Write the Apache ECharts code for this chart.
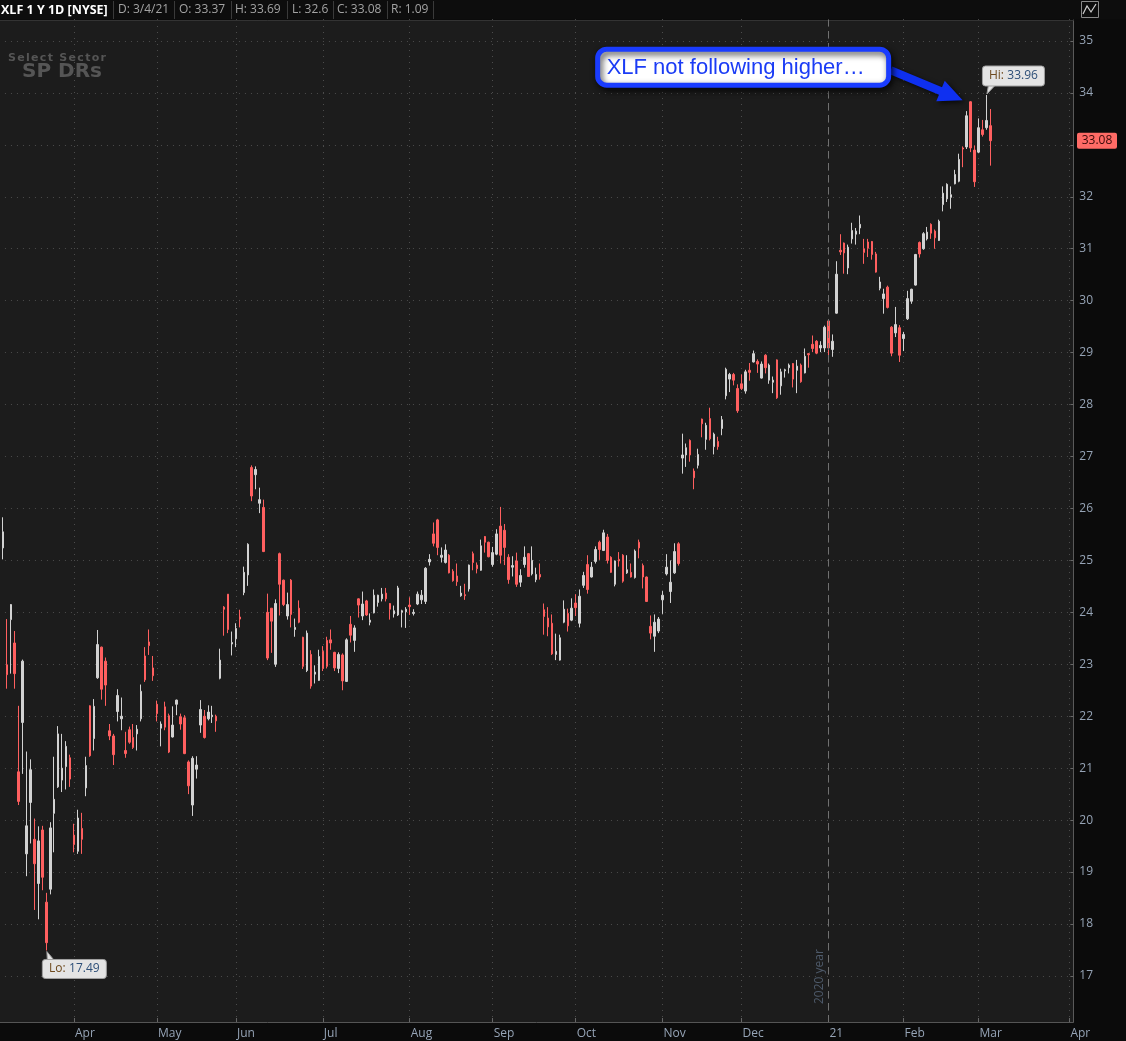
<!DOCTYPE html>
<html><head><meta charset="utf-8">
<script src="https://cdn.jsdelivr.net/npm/echarts@6/dist/echarts.min.js"></script>
<style>html,body{margin:0;padding:0;background:#0b0b0b;}#c{width:1126px;height:1041px;}</style>
</head><body><div id="c"></div>
<script>
// ---------- DATA ----------
const holidays = ['2020-04-10','2020-05-25','2020-07-03','2020-09-07','2020-11-26','2020-12-25','2021-01-01','2021-01-18','2021-02-15','2021-04-02'];
const monthNames = ['Jan','Feb','Mar','Apr','May','Jun','Jul','Aug','Sep','Oct','Nov','Dec'];
const opens = [26.94,25.24,22.99,23.86,23.41,20.93,21.88,19.35,20.34,19.63,18.78,19.81,18.42,18.67,20.13,20.64,20.77,21.03,21.20,19.71,19.40,19.84,20.62,22.20,21.57,22.74,23.33,23.06,21.72,21.62,22.09,21.95,21.34,21.74,21.59,21.66,21.95,23.16,23.43,22.93,22.23,21.77,22.18,22.01,21.60,22.23,21.99,21.97,21.12,20.29,20.98,21.83,22.00,21.95,21.99,22.00,22.73,24.10,24.35,23.39,23.49,23.91,24.38,24.72,26.79,26.65,26.10,26.02,24.00,24.08,23.00,25.13,24.62,23.93,24.62,23.67,24.08,23.52,22.88,23.19,22.81,22.69,23.25,23.46,23.47,23.23,22.92,23.18,22.67,23.77,23.46,24.26,23.93,24.22,23.81,23.99,24.19,24.26,24.37,24.17,23.97,23.95,24.00,24.01,24.14,23.98,24.16,24.24,24.21,24.97,25.51,25.78,25.06,24.96,25.10,24.79,24.70,24.32,24.34,24.45,25.13,24.91,24.81,25.46,25.35,24.92,25.12,25.66,25.58,25.06,24.87,24.99,24.58,24.92,25.13,24.74,24.63,24.73,24.05,23.89,23.79,23.19,23.08,23.81,23.98,23.85,24.18,23.79,24.52,24.92,24.68,24.98,25.35,25.19,25.45,25.06,24.54,25.02,25.10,24.76,24.77,24.67,25.35,24.90,24.68,23.73,23.54,23.64,24.24,24.74,24.40,24.76,25.32,26.97,27.03,27.31,26.72,26.83,27.72,27.33,27.73,27.19,27.29,27.54,28.17,28.49,28.58,28.31,28.40,28.26,28.66,28.82,28.83,28.51,28.95,28.47,28.43,28.86,28.36,28.65,28.71,28.79,28.66,28.76,28.61,28.98,29.16,29.22,29.09,29.09,29.61,29.06,29.76,30.97,31.11,30.63,31.19,31.28,31.40,31.00,31.13,31.14,30.90,30.24,30.04,30.26,29.49,29.38,29.48,29.27,29.65,29.99,30.30,31.12,31.00,31.19,31.47,31.34,31.16,31.85,31.96,31.99,32.25,32.30,32.94,32.96,33.83,32.90,32.86,33.29,33.33,33.37];
const highs = [27.05,25.83,23.87,24.16,23.64,22.20,23.09,21.32,21.17,20.03,19.88,19.89,18.60,19.96,21.22,21.81,21.66,21.52,21.26,19.93,20.20,20.14,21.22,22.21,22.33,23.66,23.34,23.13,21.85,21.66,22.52,22.36,21.70,21.80,21.85,21.83,22.61,23.33,23.67,23.16,22.30,21.90,22.28,22.05,22.19,22.32,22.05,22.02,21.15,21.23,21.23,22.31,22.12,22.21,22.20,22.03,23.30,24.12,24.35,23.63,23.79,24.05,24.88,25.33,26.83,26.81,26.40,26.17,24.36,24.08,24.25,25.15,24.63,24.38,24.64,23.88,24.23,23.53,23.65,23.27,22.98,23.28,23.35,23.53,23.67,23.24,23.23,23.21,23.50,23.93,23.75,24.27,24.40,24.24,23.98,24.44,24.34,24.47,24.47,24.18,24.13,24.51,24.05,24.10,24.29,24.06,24.40,24.43,24.87,25.12,25.73,25.80,25.25,25.31,25.12,24.83,24.94,24.51,24.55,24.92,25.17,24.96,25.40,25.47,25.36,25.26,25.60,26.03,25.70,25.12,25.08,25.15,24.83,25.27,25.14,25.27,24.86,24.94,24.17,24.10,23.96,23.59,23.57,24.23,24.07,24.27,24.35,24.44,24.78,25.10,24.97,25.27,25.38,25.59,25.51,25.08,25.00,25.16,25.12,25.10,24.94,25.21,25.40,24.94,24.69,23.94,23.96,23.91,24.41,25.12,25.00,25.33,25.35,27.44,27.25,27.33,26.77,27.15,27.73,27.65,27.94,27.46,27.38,27.78,28.71,28.61,28.61,28.39,28.58,28.67,28.80,29.04,28.87,28.83,28.97,28.79,28.54,28.87,28.69,28.69,28.79,28.80,28.86,28.79,29.08,28.99,29.33,29.24,29.22,29.52,29.62,29.35,30.76,31.28,31.12,31.08,31.50,31.40,31.64,31.19,31.19,31.15,30.94,30.46,30.23,30.29,29.51,29.88,29.53,29.40,30.19,30.23,30.90,31.14,31.32,31.42,31.49,31.37,31.56,32.20,32.26,32.20,32.52,32.83,32.97,33.65,33.84,32.99,33.51,33.48,33.96,33.69];
const lows = [26.15,25.02,22.53,22.82,22.53,20.29,20.89,18.92,19.55,18.27,18.09,18.65,17.49,18.57,19.38,20.62,20.54,20.59,20.64,19.38,19.35,19.35,20.46,21.22,21.34,22.72,22.32,22.20,21.54,21.06,21.90,21.73,21.20,21.47,21.37,21.34,21.90,22.66,23.18,22.68,21.90,21.42,21.73,21.29,21.59,22.02,21.74,21.27,20.50,20.08,20.80,21.68,21.57,21.92,21.87,21.70,22.71,23.55,23.60,23.17,23.33,23.71,24.33,24.51,26.14,26.37,25.91,25.16,23.08,23.22,22.95,23.94,24.12,23.86,23.71,23.53,23.79,22.91,22.85,22.53,22.63,22.68,22.87,22.92,23.28,22.87,22.83,22.50,22.66,23.42,23.24,23.90,23.85,23.93,23.75,23.98,24.11,24.21,24.21,23.86,23.90,23.93,23.71,23.70,23.95,23.94,24.14,24.16,24.16,24.90,25.27,25.10,24.96,24.94,24.75,24.59,24.51,24.30,24.24,24.40,24.81,24.75,24.80,25.15,25.06,24.88,25.10,24.94,24.91,24.55,24.69,24.49,24.49,24.86,24.68,24.71,24.58,24.63,23.57,23.54,23.18,23.08,23.07,23.79,23.63,23.83,23.93,23.71,24.47,24.36,24.67,24.94,25.01,25.18,24.94,24.76,24.50,24.88,24.57,24.74,24.67,24.65,25.04,24.46,24.20,23.48,23.24,23.60,23.97,24.71,24.18,24.74,24.90,26.67,26.80,26.90,26.37,26.77,27.37,27.13,27.31,27.04,27.13,27.41,28.10,28.24,28.37,27.84,28.28,28.21,28.46,28.81,28.61,28.50,28.60,28.40,28.22,28.11,28.19,28.52,28.60,28.33,28.22,28.42,28.60,28.71,29.01,28.97,29.01,29.01,28.84,28.92,29.75,30.88,30.52,30.51,31.10,31.08,31.28,30.71,30.84,30.79,30.54,30.20,29.75,29.85,28.93,29.30,28.82,29.03,29.63,29.94,30.29,30.83,30.98,31.16,31.19,31.00,31.15,31.72,31.90,31.77,32.24,32.28,32.57,32.92,32.86,32.19,32.84,33.16,33.29,32.60];
const closes = [26.44,25.55,22.80,24.15,22.82,20.36,23.06,19.89,20.97,19.16,19.60,18.90,17.64,19.85,20.40,21.66,21.00,21.42,20.79,19.53,20.04,19.63,21.05,21.24,22.19,23.38,22.52,22.60,21.62,21.26,22.40,22.00,21.28,21.50,21.40,21.75,22.48,22.70,23.36,22.78,22.05,21.85,21.79,21.31,21.83,22.31,21.85,21.28,20.66,21.19,21.06,22.13,21.59,22.08,22.02,21.91,23.08,24.06,23.67,23.42,23.69,23.87,24.77,25.31,26.24,26.75,26.17,25.17,23.12,23.83,24.17,24.54,24.15,24.15,23.96,23.71,23.81,22.96,23.60,22.58,22.85,23.15,22.92,22.96,23.41,22.93,23.19,22.68,23.47,23.56,23.70,24.14,24.16,23.95,23.85,24.33,24.33,24.35,24.26,24.06,24.03,24.47,24.03,24.06,24.11,24.00,24.35,24.33,24.85,25.02,25.33,25.25,25.10,25.20,24.76,24.61,24.59,24.37,24.32,24.91,24.96,24.84,25.28,25.35,25.07,25.15,25.51,25.10,25.25,24.63,24.90,24.54,24.71,25.06,24.69,25.00,24.73,24.68,23.92,23.72,23.20,23.25,23.51,24.06,23.74,24.08,24.09,24.31,24.71,24.44,24.87,25.21,25.21,25.53,25.00,24.77,24.99,24.99,24.60,24.82,24.68,25.18,25.24,24.68,24.21,23.60,23.81,23.87,24.33,24.87,24.58,25.17,24.94,27.03,27.17,27.03,26.59,27.04,27.63,27.60,27.34,27.43,27.19,27.71,28.68,28.58,28.47,27.88,28.31,28.63,28.62,28.98,28.78,28.78,28.71,28.76,28.47,28.13,28.63,28.67,28.76,28.49,28.74,28.44,28.93,28.96,29.08,28.99,29.14,29.49,29.09,29.22,30.51,30.94,30.92,31.03,31.35,31.34,31.47,30.93,31.01,30.89,30.55,30.36,30.13,29.87,28.99,29.54,28.95,29.35,30.04,30.22,30.89,30.90,31.29,31.32,31.30,31.21,31.53,32.07,32.24,32.04,32.43,32.72,32.92,33.56,32.94,32.29,33.33,33.20,33.47,33.08];
const headerItems = ['D: 3/4/21','O: 33.37','H: 33.69','L: 32.6','C: 33.08','R: 1.09'];

// ---------- trading-day categories ----------
function buildDates(){
  const out=[]; let t=Date.UTC(2020,2,5); const end=Date.UTC(2021,3,5);
  while(t<=end){const d=new Date(t);const wd=d.getUTCDay();const s=d.toISOString().slice(0,10);
    if(wd!==0&&wd!==6&&holidays.indexOf(s)<0) out.push(s); t+=86400000;}
  return out;
}
const dates = buildDates();
const isMonthStart = dates.map((s,i)=> i>0 && s.slice(5,7)!==dates[i-1].slice(5,7));
const monthFilter = (i)=> isMonthStart[i];
function monthLabel(v){const m=+v.slice(5,7);return m===1? v.slice(2,4) : monthNames[m-1];}

const UP='#d2d2d2', DOWN='#ff5f5f';
const AXC='#96a4b6';
const FONT='"Open Sans", sans-serif';
const Y_MIN=16.113, Y_MAX=35.404;

const candle = opens.map((o,i)=>[o, closes[i], lows[i], highs[i]]);

const chart = echarts.init(document.getElementById('c'), null, {width:1126, height:1041});
const option = {
  animation:false,
  backgroundColor:'#0b0b0b',
  grid:{left:-1.05, right:52.65, top:20, bottom:19, show:true, backgroundColor:'#1c1c1c', borderWidth:0, outerBoundsMode:'none', containLabel:false},
  xAxis:[{
    type:'category', data:dates, boundaryGap:false,
    axisLine:{show:true, lineStyle:{color:'#555', width:1}},
    axisTick:{show:true, inside:true, length:4, interval:monthFilter, lineStyle:{color:'#666'}},
    axisLabel:{show:true, interval:monthFilter, formatter:monthLabel, color:AXC, fontFamily:FONT, fontSize:12, align:'left', margin:6, padding:[0,0,0,1]},
    splitLine:{show:true, interval:monthFilter, lineStyle:{color:'#4c4c4c', type:[1,5], width:1}}
  },{
    type:'category', data:dates, boundaryGap:false, position:'top',
    axisLine:{show:true, lineStyle:{color:'#333', width:1}},
    axisTick:{show:true, inside:false, length:3, interval:monthFilter, lineStyle:{color:'#444'}},
    axisLabel:{show:false}, splitLine:{show:false}
  }],
  yAxis:{
    type:'value', position:'right', min:Y_MIN, max:Y_MAX, splitNumber:19, scale:true,
    axisLine:{show:true, lineStyle:{color:'#5a5a5a'}},
    axisTick:{show:true, inside:true, length:3, lineStyle:{color:'#666'}},
    axisLabel:{color:AXC, fontFamily:FONT, fontSize:12, margin:6, showMinLabel:false, showMaxLabel:false,
      formatter:(v)=> (Math.abs(v-Math.round(v))<1e-6 ? String(Math.round(v)) : '')},
    splitLine:{show:true, showMinLine:false, showMaxLine:false, lineStyle:{color:'#4c4c4c', type:[1,5], width:1}}
  },
  series:[{
    type:'candlestick', data:candle, barWidth:2, xAxisIndex:0, clip:false,
    itemStyle:{color:UP, color0:DOWN, borderColor:UP, borderColor0:DOWN, borderWidth:1},
    emphasis:{disabled:true},
    markLine:{
      silent:true, symbol:['none','none'], animation:false,
      lineStyle:{color:'#707070', type:[7,5], width:1},
      label:{show:true, position:'insideStartTop', formatter:'2020 year', color:'#4e5a6a', fontFamily:FONT, fontSize:12, distance:[18,3]},
      data:[{xAxis:dates[210]}]
    }
  }]
};
chart.setOption(option);

// ---------- annotations positioned through the chart's own scales ----------
const px = (i,v)=>chart.convertToPixel({gridIndex:0},[i,v]);
const g = [];
// header
g.push({type:'rect', shape:{x:0,y:0,width:1126,height:19}, style:{fill:'#0d0d0d'}, z:50});
g.push({type:'text', x:1, y:10, style:{text:'XLF 1 Y 1D [NYSE]', fill:'#ffffff', font:'bold 12.5px '+FONT, textVerticalAlign:'middle'}, z:51});
const hx=[118,179,235,292,337,391], sx=[113,174,231,287,333,387,433];
headerItems.forEach((t,k)=>g.push({type:'text', x:hx[k], y:10, style:{text:t, fill:'#a3a3a3', font:'12px '+FONT, textVerticalAlign:'middle'}, z:51}));
sx.forEach(x=>g.push({type:'line', shape:{x1:x+0.5,y1:1,x2:x+0.5,y2:19}, style:{stroke:'#3a3a3a', lineWidth:1}, z:51}));
// top-right icon
g.push({type:'rect', shape:{x:1081.5,y:1.5,width:17,height:16}, style:{fill:'none', stroke:'#8a8a8a', lineWidth:1}, z:51});
g.push({type:'polyline', shape:{points:[[1083,14],[1087,6],[1091,12],[1096,4]]}, style:{stroke:'#cfcfcf', lineWidth:1.2, fill:'none'}, z:52});
// watermark (letter-spaced using measured glyph widths)
(function(){
  const wmFont='bold 11px "DejaVu Sans", sans-serif';
  const ctx=document.createElement('canvas').getContext('2d'); ctx.font=wmFont;
  const txt='Select Sector'; const chars=txt.split('');
  const widths=chars.map(c=>ctx.measureText(c).width);
  const total=widths.reduce((a,b)=>a+b,0);
  const sp=(98-total)/(chars.length-1);
  let x=8;
  chars.forEach((c,k)=>{g.push({type:'text', x:x, y:53, style:{text:c, fill:'#555555', font:wmFont}, z:3}); x+=widths[k]+sp;});
})();
g.push({type:'text', x:22, y:62, style:{text:'SP DRs', fill:'#555555', font:'bold 20px "DejaVu Sans", sans-serif'}, z:3});

// Hi label
const hiIdx = highs.indexOf(Math.max(...highs));
const hp = px(hiIdx, highs[hiIdx]);
const hb = {x:hp[0]-4, y:hp[1]-29, w:62, h:20};
g.push({type:'polygon', shape:{points:[[hb.x+6,hb.y+hb.h-1],[hb.x+13,hb.y+hb.h-1],[hp[0]+0.5,hp[1]-1]]}, style:{fill:'#e4e4e4', stroke:'#9a9a9a', lineWidth:1}, z:60});
g.push({type:'rect', shape:{x:hb.x,y:hb.y,width:hb.w,height:hb.h,r:3}, style:{fill:'#e4e4e4', stroke:'#a0a0a0', lineWidth:1}, z:61});
g.push({type:'text', x:hb.x+hb.w/2, y:hb.y+hb.h/2, style:{rich:{a:{fill:'#6e4a1e',font:'12px '+FONT},b:{fill:'#2d4f78',font:'12px '+FONT}}, text:'{a|Hi:} {b|'+highs[hiIdx].toFixed(2)+'}', textAlign:'center', textVerticalAlign:'middle'}, z:62});
// Lo label
const loIdx = lows.indexOf(Math.min(...lows));
const lp = px(loIdx, lows[loIdx]);
const lb = {x:lp[0]-4, y:lp[1]+9, w:64, h:19};
g.push({type:'polygon', shape:{points:[[lb.x+5,lb.y+1],[lb.x+12,lb.y+1],[lp[0]+0.5,lp[1]+1]]}, style:{fill:'#e4e4e4', stroke:'#9a9a9a', lineWidth:1}, z:60});
g.push({type:'rect', shape:{x:lb.x,y:lb.y,width:lb.w,height:lb.h,r:3}, style:{fill:'#e4e4e4', stroke:'#a0a0a0', lineWidth:1}, z:61});
g.push({type:'text', x:lb.x+lb.w/2, y:lb.y+lb.h/2, style:{rich:{a:{fill:'#6e4a1e',font:'12px '+FONT},b:{fill:'#2d4f78',font:'12px '+FONT}}, text:'{a|Lo:} {b|'+lows[loIdx].toFixed(2)+'}', textAlign:'center', textVerticalAlign:'middle'}, z:62});

// last price tag on right axis
const last = closes.length-1;
const cp = px(last, closes[last]);
g.push({type:'rect', shape:{x:1077,y:cp[1]-8,width:40,height:16,r:2}, style:{fill:'#ff6b66'}, z:70});
g.push({type:'text', x:1097, y:cp[1], style:{text:closes[last].toFixed(2), fill:'#3a0a0a', font:'12px '+FONT, textAlign:'center', textVerticalAlign:'middle'}, z:71});

// callout + arrow pointing at the late-Feb high
const tp = px(246, highs[246]);
const tip = [tp[0]-8, tp[1]-1];
const box = {x:tip[0]-365, y:tip[1]-51, w:291, h:36};
g.push({type:'rect', shape:{x:box.x,y:box.y,width:box.w,height:box.h,r:9}, style:{fill:'#ffffff', stroke:'#1a3cff', lineWidth:5, shadowBlur:6, shadowColor:'rgba(0,0,0,0.7)', shadowOffsetX:2, shadowOffsetY:3}, z:80});
g.push({type:'text', x:box.x+9, y:box.y+box.h/2+1, style:{text:'XLF not following higher\u2026', fill:'#1b3cf5', font:'22px "Liberation Sans", Arial, sans-serif', textVerticalAlign:'middle'}, z:81});
(function(){
  const S=[box.x+box.w+2, box.y+21];
  const dx=tip[0]-S[0], dy=tip[1]-S[1]; const L=Math.hypot(dx,dy); const u=[dx/L,dy/L], n=[-u[1],u[0]];
  const H=[tip[0]-u[0]*24, tip[1]-u[1]*24];
  const sw=4, hw=11;
  const P=(p,k)=>[p[0]+n[0]*k, p[1]+n[1]*k];
  g.push({type:'polygon', shape:{points:[P(S,sw),P(H,sw),P(H,hw),tip,P(H,-hw),P(H,-sw),P(S,-sw)]}, style:{fill:'#0f30f0', shadowBlur:5, shadowColor:'rgba(0,0,0,0.7)', shadowOffsetX:2, shadowOffsetY:2}, z:79});
})();

chart.setOption({graphic:g});
</script>
</body></html>
